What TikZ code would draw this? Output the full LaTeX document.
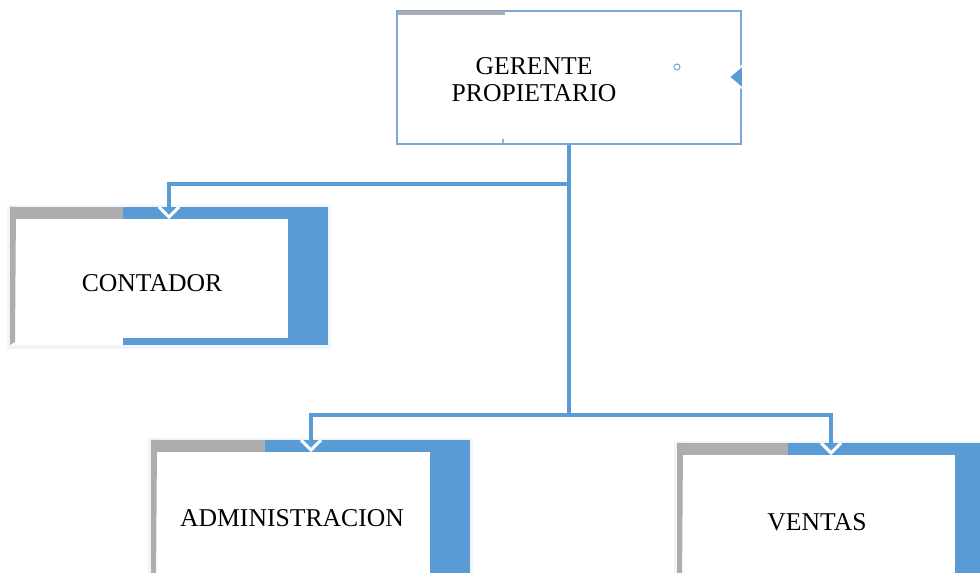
\documentclass[tikz,border=0pt]{standalone}
\usepackage{fontspec}
\setmainfont{Liberation Serif}
\usetikzlibrary{calc}
\definecolor{orgblue}{HTML}{5B9BD5}
\definecolor{orggray}{HTML}{ADADAD}
\definecolor{lineblue}{HTML}{7DA7D9}

% box: x1, y1, x2, y2, end of gray bar, right of white panel
\newcommand{\orgbox}[6]{%
	\fill[orgblue!10]	(#1-3,#2-2) rectangle (#3+3,#4+4);
	\fill[orgblue]		(#5,#2) rectangle (#3,#4);
	\fill[white]		(#1,#2) rectangle (#5,#4);
	\fill[orggray]		(#1,#2) rectangle (#5,#2+12);
	\fill[orggray]		(#1,#2) -- (#1+6,#2) -- (#1+5,#4-3) -- (#1,#4) -- cycle;
	\fill[white]		(#1+6,#2+12) rectangle (#6,#4-7);
}
\newcommand{\chev}[1]{\draw[white, line width=1.8pt] ($(#1)+(-10,0)$) -- ($(#1)+(0,10)$) -- ($(#1)+(10,0)$);}

\begin{document}
\begin{tikzpicture}[x=0.02cm, y=-0.02cm, font=\fontsize{14.6}{15.4}\selectfont,
	conn/.style={orgblue, line width=2.1pt}]
	\useasboundingbox (0,0) rectangle (980,573);

	% top box
	\node[draw=lineblue, line width=0.8pt, fill=white, minimum width=6.88cm, minimum height=2.66cm, inner sep=0pt] (ger) at (569,77.5) {};
	\fill[orggray]	(398,11) rectangle (505,15);
	\fill[orggray]	(502,139) rectangle (504,143);
	\draw[lineblue, line width=0.6pt] (677,67) circle (3);
	\filldraw[fill=orgblue, draw=white, line width=1pt] (743,65) -- (729,77) -- (743,89) -- cycle;
	\node[align=center] (gertxt) at (534,80) {GERENTE\\PROPIETARIO};

	% lower boxes
	\orgbox{10}{207}{328}{345}{123}{288}
	\orgbox{151}{440}{470}{590}{265}{430}
	\orgbox{677}{443}{1000}{590}{788}{955}
	\node (conttxt) at (152,283) {CONTADOR};
	\node (admtxt) at (292,518) {ADMINISTRACION};
	\node (ventxt) at (817,522) {VENTAS};

	\coordinate (cont) at (169,207);
	\coordinate (adm) at (311,440);
	\coordinate (ven) at (831,443);
	\coordinate (j1) at (569,184);
	\coordinate (j2) at (569,415);

	% connectors
	\draw[conn] (ger.south) -- (j2);
	\draw[conn] (j1) -| ($(cont)+(0,8)$);
	\draw[conn] ($(adm)+(0,8)$) |- (j2) -| ($(ven)+(0,8)$);
	\chev{cont}
	\chev{adm}
	\chev{ven}
\end{tikzpicture}
\end{document}
